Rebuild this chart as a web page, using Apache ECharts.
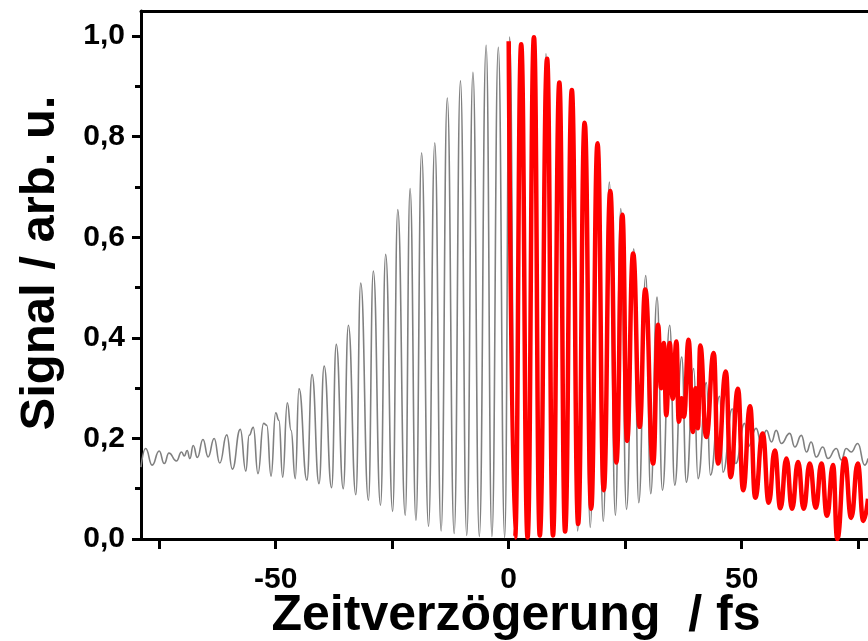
<!DOCTYPE html>
<html><head><meta charset="utf-8">
<script src="https://cdn.jsdelivr.net/npm/echarts@6/dist/echarts.min.js"></script>
<style>html,body{margin:0;padding:0;background:#fff}#c{width:868px;height:641px}</style>
</head><body><div id="c"></div>
<script>
// Gray trace (full autocorrelation), time in fs
const grayTime = [
-78.9,-77.9,-76.5,-75.0,-73.9,-72.9,-71.3,-70.2,-69.6,-69.0,
-68.4,-67.7,-66.8,-65.6,-64.5,-63.2,-62.0,-60.5,-59.3,-57.6,
-56.4,-55.7,-54.8,-53.8,-52.6,-51.9,-51.0,-50.0,-49.3,-48.5,
-47.5,-46.7,-45.8,-45.0,-43.3,-42.2,-40.7,-39.6,-38.0,-37.0,
-35.5,-34.4,-32.8,-31.75,-30.1,-29.05,-27.5,-26.4,-24.9,-23.8,
-22.2,-21.16,-19.9,-18.69,-17.2,-15.86,-14.5,-13.18,-11.7,-10.35,
-9.0,-7.67,-6.3,-4.84,-3.6,-2.23,-0.86,0.2,1.4,2.7,
4.0,5.3,6.7,8.0,9.4,10.8,12.1,13.5,14.8,16.2,
17.5,18.9,20.3,21.6,22.9,24.05,25.27,26.84,27.91,29.41,
30.48,31.83,32.99,34.55,35.63,37.13,38.13,39.7,40.62,42.42,
43.28,45.27,45.98,47.99,48.7,50.63,51.34,53.1,54.2,55.3,
56.4,57.4,58.5,60.3,61.4,62.8,63.9,64.9,66.0,67.4,
68.5,70.3,71.4,72.4,73.5,74.9,76.4,77.1];
const grayValue = [
0.143,0.180,0.147,0.175,0.150,0.171,0.155,0.173,0.165,0.176,
0.160,0.186,0.162,0.198,0.163,0.200,0.151,0.207,0.139,0.218,
0.135,0.206,0.222,0.130,0.230,0.226,0.125,0.251,0.236,0.123,
0.271,0.216,0.120,0.299,0.117,0.327,0.110,0.344,0.102,0.387,
0.100,0.425,0.088,0.509,0.077,0.533,0.067,0.566,0.055,0.655,
0.047,0.697,0.037,0.768,0.025,0.788,0.016,0.877,0.011,0.911,
0.007,0.928,0.005,0.982,0.005,0.978,0.003,0.998,0.003,0.985,
0.004,0.975,0.006,0.965,0.008,0.905,0.012,0.885,0.016,0.825,
0.023,0.780,0.035,0.710,0.047,0.657,0.059,0.577,0.072,0.524,
0.090,0.481,0.097,0.425,0.107,0.362,0.113,0.339,0.120,0.311,
0.127,0.284,0.133,0.259,0.150,0.230,0.183,0.220,0.190,0.216,
0.193,0.216,0.190,0.210,0.183,0.206,0.173,0.193,0.163,0.183,
0.160,0.180,0.157,0.180,0.173,0.190,0.147,0.160];

// Red trace (t >= 0)
const redTime = [
0.0,1.37,2.68,4.05,5.42,6.67,8.25,9.5,10.87,12.1,
13.55,14.9,16.3,17.7,19.06,20.4,21.8,23.1,24.4,25.4,
26.7,28.1,29.3,31.0,32.05,32.7,33.3,33.8,34.55,35.2,
36.0,36.5,37.1,37.6,38.6,39.5,40.1,40.6,41.1,42.4,
44.0,44.9,46.6,47.6,49.2,50.3,51.8,52.9,54.5,55.8,
57.1,58.3,59.6,60.8,62.1,63.3,64.6,65.9,67.1,68.3,
69.6,70.5,72.1,73.5,74.9,76.1,77.1];
const redValue = [
0.990,0.003,0.984,0.003,0.998,0.007,0.955,0.007,0.908,0.015,
0.893,0.030,0.828,0.060,0.787,0.097,0.692,0.152,0.645,0.195,
0.568,0.223,0.496,0.150,0.426,0.300,0.390,0.246,0.390,0.279,
0.393,0.233,0.280,0.243,0.396,0.213,0.300,0.220,0.385,0.203,
0.370,0.150,0.333,0.123,0.299,0.097,0.264,0.082,0.210,0.072,
0.176,0.061,0.160,0.060,0.153,0.060,0.150,0.062,0.150,0.046,
0.147,0.000,0.160,0.042,0.150,0.036,0.080];

const xTicks = [-75,-50,-25,0,25,50,75];
const xTickLabels = [-50,0,50];
const yTickLabels = [0,0.2,0.4,0.6,0.8,1.0];
const yMinorTicks = [0.1,0.3,0.5,0.7,0.9];

function zip(a,b){const n=Math.min(a.length,b.length);const r=[];for(let i=0;i<n;i++)r.push([a[i],b[i]]);return r;}

const FONT = '"Liberation Sans", Arial, sans-serif';
const chart = echarts.init(document.getElementById('c'), null, {renderer:'canvas'});
const X_MIN = -78.9, X_MAX = 77.1, Y_MIN = 0, Y_MAX = 1.05;
chart.setOption({
  animation:false,
  backgroundColor:'#ffffff',
  grid:{left:141,right:0,top:11,bottom:102},
  xAxis:[{
    type:'value', min:X_MIN, max:X_MAX, position:'bottom',
    axisLine:{show:true,onZero:false,lineStyle:{color:'#000',width:3}},
    axisTick:{show:true,inside:false,length:10,lineStyle:{color:'#000',width:3},customValues:xTicks},
    axisLabel:{show:true,customValues:xTickLabels,margin:26,color:'#000',fontSize:30,fontWeight:'bold',fontFamily:FONT,
      formatter:v=>String(Math.round(v))},
    splitLine:{show:false}
  },{
    type:'value', min:X_MIN, max:X_MAX, position:'top',
    axisLine:{show:true,onZero:false,lineStyle:{color:'#000',width:3}},
    axisTick:{show:false}, axisLabel:{show:false}, splitLine:{show:false}
  }],
  yAxis:[{
    type:'value', min:Y_MIN, max:Y_MAX, position:'left',
    axisLine:{show:true,onZero:false,lineStyle:{color:'#000',width:3}},
    axisTick:{show:true,inside:false,length:9,lineStyle:{color:'#000',width:3},customValues:yTickLabels},
    axisLabel:{show:true,customValues:yTickLabels,margin:16,color:'#000',fontSize:30,fontWeight:'bold',fontFamily:FONT,
      formatter:v=>v.toFixed(1).replace('.',',')},
    splitLine:{show:false}
  },{
    type:'value', min:Y_MIN, max:Y_MAX, position:'left',
    axisLine:{show:false,onZero:false},
    axisTick:{show:true,inside:false,length:6,lineStyle:{color:'#000',width:3},customValues:yMinorTicks},
    axisLabel:{show:false}, splitLine:{show:false}
  }],
  series:[{
    type:'line', xAxisIndex:0, yAxisIndex:0, data:zip(grayTime,grayValue),
    showSymbol:false, symbol:'none', smooth:0.5, smoothMonotone:'x',
    lineStyle:{color:'#808080',width:1.6}, z:2
  },{
    type:'line', xAxisIndex:0, yAxisIndex:0, data:zip(redTime,redValue),
    showSymbol:false, symbol:'none', smooth:0.5, smoothMonotone:'x',
    lineStyle:{color:'#ff0000',width:4.5}, z:3
  }],
  graphic:[{
    type:'text', x:40, y:263, rotation:Math.PI/2,
    style:{text:'Signal / arb. u.', fontSize:49, fontWeight:'bold', fontFamily:FONT, fill:'#000',
      align:'center', verticalAlign:'middle', textAlign:'center', textVerticalAlign:'middle'}
  },{
    type:'text', x:516, y:616,
    style:{text:'Zeitverzögerung  / fs', fontSize:50, fontWeight:'bold', fontFamily:FONT, fill:'#000',
      align:'center', verticalAlign:'middle', textAlign:'center', textVerticalAlign:'middle'}
  }]
});
</script></body></html>
